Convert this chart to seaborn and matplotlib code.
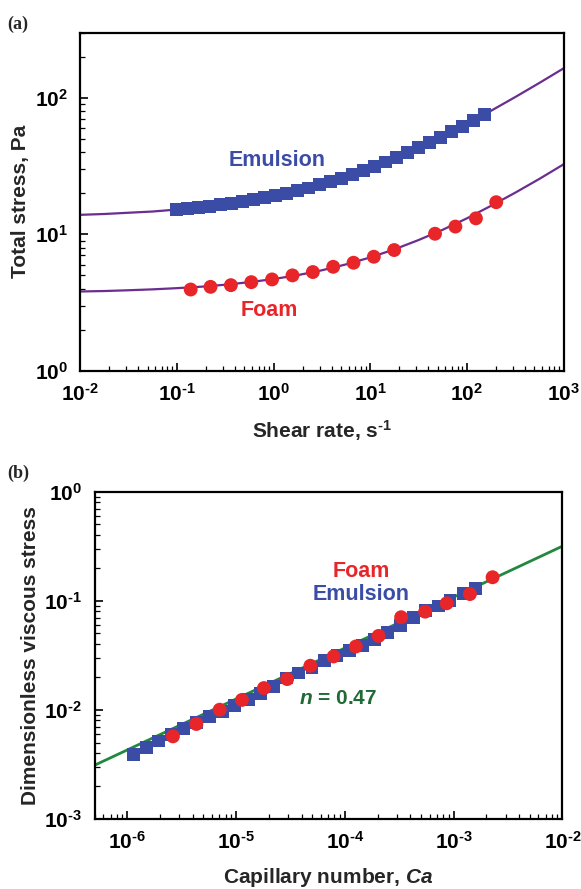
# -*- encoding utf-8 -*-
# Total stress vs shear rate (a) and scaled stress vs capillary number (b)

import matplotlib
matplotlib.use('Agg')
import matplotlib.pyplot as plt
import matplotlib.ticker as mticker
import numpy as np
import seaborn as sns


# %% data
# -----------------------------

# panel (a) - emulsion, squares
emul_rate = [0.100, 0.130, 0.169, 0.219, 0.285, 0.370, 0.481, 0.624, 0.811,
             1.05, 1.37, 1.78, 2.31, 3.00, 3.89, 5.06, 6.57, 8.53, 11.1,
             14.4, 18.7, 24.3, 31.6, 41.0, 53.2, 69.2, 89.9, 117, 152]
emul_stress = [15.2, 15.5, 15.8, 16.1, 16.5, 16.9, 17.4, 17.9, 18.5, 19.2,
               20.0, 20.9, 21.9, 23.1, 24.4, 25.8, 27.5, 29.4, 31.5, 33.9,
               36.6, 39.6, 43.1, 47.0, 51.4, 56.4, 62.1, 68.5, 75.7]

# panel (a) - foam, circles
foam_rate = [0.139, 0.223, 0.362, 0.589, 0.965, 1.57, 2.55, 4.14, 6.72,
             10.9, 17.7, 46.8, 76, 124, 201]
foam_stress = [3.94, 4.12, 4.24, 4.46, 4.67, 5.0, 5.29, 5.78, 6.19, 6.85,
               7.67, 10.1, 11.4, 13.1, 17.2]

# panel (a) - fitted curves, sampled every quarter decade
fit_rate = [0.01, 0.0178, 0.0316, 0.0562, 0.1, 0.178, 0.316, 0.562, 1.0,
            1.78, 3.16, 5.62, 10, 17.8, 31.6, 56.2, 100, 178, 316, 562, 1000]
fit_emul = [13.9, 14.1, 14.4, 14.7, 15.2, 15.8, 16.6, 17.7, 19.1, 20.9,
            23.3, 26.5, 30.6, 36.0, 43.1, 52.4, 64.6, 80.6, 101.5, 128.9,
            164.8]
fit_foam = [3.81, 3.84, 3.89, 3.95, 4.03, 4.13, 4.27, 4.46, 4.70, 5.02,
            5.45, 6.02, 6.77, 7.76, 9.08, 10.8, 13.1, 16.2, 20.2, 25.5, 32.6]

# panel (b) - emulsion, squares
emul_ca = [1.14e-6, 1.49e-6, 1.94e-6, 2.54e-6, 3.29e-6, 4.30e-6, 5.70e-6,
           7.45e-6, 9.67e-6, 1.29e-5, 1.67e-5, 2.22e-5, 2.88e-5, 3.76e-5,
           4.98e-5, 6.47e-5, 8.45e-5, 1.10e-4, 1.45e-4, 1.87e-4, 2.48e-4,
           3.22e-4, 4.27e-4, 5.53e-4, 7.24e-4, 9.27e-4, 1.23e-3, 1.59e-3]
emul_visc = [3.87e-3, 4.52e-3, 5.17e-3, 5.90e-3, 6.70e-3, 7.60e-3, 8.69e-3,
             9.64e-3, 1.09e-2, 1.25e-2, 1.42e-2, 1.62e-2, 1.95e-2, 2.17e-2,
             2.44e-2, 2.83e-2, 3.12e-2, 3.47e-2, 3.85e-2, 4.44e-2, 5.14e-2,
             5.96e-2, 6.99e-2, 8.10e-2, 8.93e-2, 0.101, 0.117, 0.130]

# panel (b) - foam, circles
foam_ca = [2.62e-6, 4.30e-6, 7.05e-6, 1.13e-5, 1.80e-5, 2.94e-5, 4.81e-5,
           7.87e-5, 1.26e-4, 2.04e-4, 3.29e-4, 5.47e-4, 8.63e-4, 1.41e-3,
           2.28e-3]
foam_visc = [5.70e-3, 7.40e-3, 1.0e-2, 1.23e-2, 1.58e-2, 1.91e-2, 2.53e-2,
             3.08e-2, 3.80e-2, 4.75e-2, 7.05e-2, 7.93e-2, 9.46e-2, 0.115,
             0.164]

# panel (b) - power law line, n = 0.47
line_ca = [5e-7, 1e-2]
line_visc = [3.1e-3, 0.316]


# %% style
# --------

sns.set_style('ticks')
plt.rcParams['font.family'] = ['Liberation Sans', 'DejaVu Sans']
plt.rcParams['font.weight'] = 'bold'
plt.rcParams['mathtext.fontset'] = 'custom'
plt.rcParams['mathtext.rm'] = 'Liberation Sans:bold'
plt.rcParams['mathtext.bf'] = 'Liberation Sans:bold'
plt.rcParams['mathtext.it'] = 'Liberation Sans:bold:italic'

purple = '#6b2d8f'
blue = '#3a4ca6'
red = '#e8262a'
green = '#23883f'
dkgreen = '#1f6a35'


def pow10(v, pos):
    e = int(round(np.log10(v)))
    # short hyphen in the exponent, as in the original
    return r'$\mathrm{10^{%s}}$' % (str(e).replace('-', '\u2010'))


def style_axis(ax):
    ax.set_xscale('log')
    ax.set_yscale('log')
    for sp in ax.spines.values():
        sp.set_linewidth(1.6)
        sp.set_color('black')
    ax.tick_params(which='both', direction='in', top=False, right=False,
                   colors='black', labelsize=15)
    ax.tick_params(which='major', length=6, width=1.2, pad=9)
    ax.tick_params(which='minor', length=3.5, width=0.9)
    ax.xaxis.set_major_formatter(mticker.FuncFormatter(pow10))
    ax.yaxis.set_major_formatter(mticker.FuncFormatter(pow10))
    ax.xaxis.set_minor_formatter(mticker.NullFormatter())
    ax.yaxis.set_minor_formatter(mticker.NullFormatter())
    ax.xaxis.set_minor_locator(mticker.LogLocator(subs=np.arange(2, 10)))
    ax.yaxis.set_minor_locator(mticker.LogLocator(subs=np.arange(2, 10)))


# %% figure
# ---------

fig = plt.figure(figsize=(5.81, 8.89), dpi=100)

# (a)
ax1 = fig.add_axes([0.138, 0.583, 0.832, 0.380])
sns.lineplot(x=fit_rate, y=fit_emul, color=purple, lw=1.6, ax=ax1,
             estimator=None, sort=False)
sns.lineplot(x=fit_rate, y=fit_foam, color=purple, lw=1.6, ax=ax1,
             estimator=None, sort=False)
sns.scatterplot(x=emul_rate, y=emul_stress, marker='s', s=85, color=blue,
                edgecolor='none', ax=ax1, zorder=3)
sns.scatterplot(x=foam_rate, y=foam_stress, marker='o', s=100, color=red,
                edgecolor='none', ax=ax1, zorder=3)
style_axis(ax1)
ax1.set_xlim(1e-2, 1e3)
ax1.set_ylim(1, 300)
ax1.set_xticks([1e-2, 1e-1, 1, 10, 100, 1000])
ax1.set_yticks([1, 10, 100])
ax1.set_xlabel('Shear rate, s$^{\\mathrm{\u20101}}$', fontsize=15,
               fontweight='bold', labelpad=9)
ax1.set_ylabel('Total stress, Pa', fontsize=15, fontweight='bold',
               labelpad=3)
ax1.text(1.1, 34.6, 'Emulsion', color=blue, fontsize=15.5, fontweight='bold',
         ha='center', va='center')
ax1.text(0.91, 2.78, 'Foam', color=red, fontsize=15.5, fontweight='bold',
         ha='center', va='center')

# (b)
ax2 = fig.add_axes([0.163, 0.079, 0.805, 0.368])
sns.lineplot(x=line_ca, y=line_visc, color=green, lw=2.0, ax=ax2,
             estimator=None, sort=False)
sns.scatterplot(x=emul_ca, y=emul_visc, marker='s', s=85, color=blue,
                edgecolor='none', ax=ax2, zorder=3)
sns.scatterplot(x=foam_ca, y=foam_visc, marker='o', s=100, color=red,
                edgecolor='none', ax=ax2, zorder=4)
style_axis(ax2)
ax2.set_xlim(5e-7, 1e-2)
ax2.set_ylim(1e-3, 1)
ax2.set_xticks([1e-6, 1e-5, 1e-4, 1e-3, 1e-2])
ax2.set_yticks([1e-3, 1e-2, 1e-1, 1])
ax2.set_xlabel(r'Capillary number, $\mathit{Ca}$', fontsize=15,
               fontweight='bold', labelpad=9)
ax2.set_ylabel('Dimensionless viscous stress', fontsize=15,
               fontweight='bold', labelpad=3)
ax2.text(1.41e-4, 0.184, 'Foam', color=red, fontsize=15.5, fontweight='bold',
         ha='center', va='center')
ax2.text(1.41e-4, 0.113, 'Emulsion', color=blue, fontsize=15.5,
         fontweight='bold', ha='center', va='center')
ax2.text(8.6e-5, 0.0128, r'$\mathit{n}$ = 0.47', color=dkgreen,
         fontsize=15, fontweight='bold', ha='center', va='center')

# panel letters
fig.text(0.012, 0.973, '(a)', family='Liberation Serif', fontweight='bold',
         fontsize=13, va='center')
fig.text(0.012, 0.468, '(b)', family='Liberation Serif', fontweight='bold',
         fontsize=13, va='center')

fig.savefig('out.png', dpi=100)
